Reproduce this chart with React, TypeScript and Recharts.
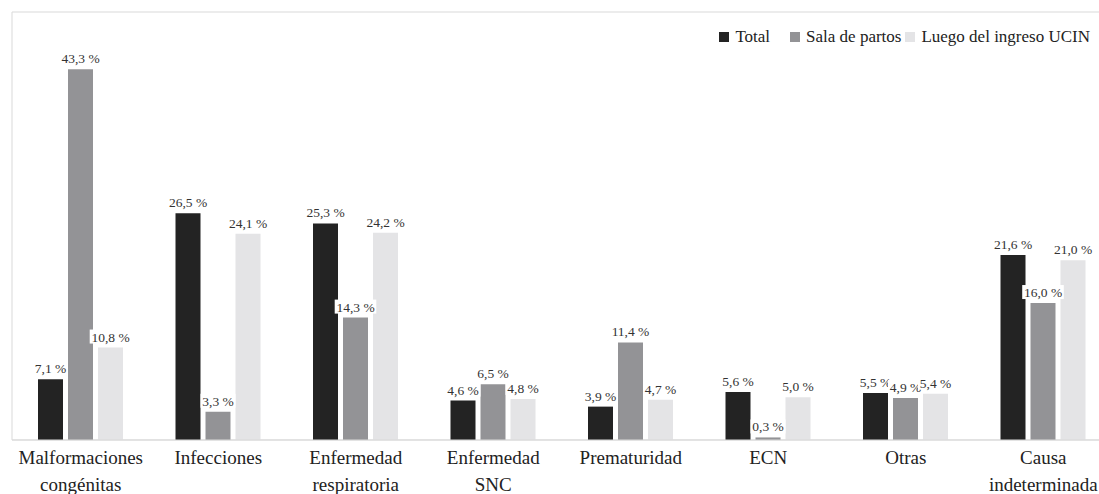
import { BarChart, Bar, XAxis, YAxis, CartesianGrid, LabelList } from "recharts";

const causes = [
  "Malformaciones\ncongénitas",
  "Infecciones",
  "Enfermedad\nrespiratoria",
  "Enfermedad\nSNC",
  "Prematuridad",
  "ECN",
  "Otras",
  "Causa\nindeterminada",
];
const total = [7.1, 26.5, 25.3, 4.6, 3.9, 5.6, 5.5, 21.6];
const salaPartos = [43.3, 3.3, 14.3, 6.5, 11.4, 0.3, 4.9, 16.0];
const luegoUcin = [10.8, 24.1, 24.2, 4.8, 4.7, 5.0, 5.4, 21.0];
const yTicks = [0, 5, 10, 15, 20, 25, 30, 35, 40, 45, 50];

const series = [
  { key: "total", name: "Total", color: "#232323" },
  { key: "sala", name: "Sala de partos", color: "#939396" },
  { key: "luego", name: "Luego del ingreso UCIN", color: "#e4e4e6" },
];

const data = causes.map((cause, i) => ({
  cause,
  total: total[i],
  sala: salaPartos[i],
  luego: luegoUcin[i],
}));

const FONT = "Liberation Serif";
const GRID = "#d9d9d9";

// force the serif face on everything inside the chart, svg text included
const css = `.causas-chart, .causas-chart * { font-family: "Liberation Serif", serif !important; }`;

const fmt = (v: number) => `${v.toFixed(1).replace(".", ",")} %`;

function ValueLabel(props: any) {
  const { x, y, width, value } = props;
  const cx = Number(x) + Number(width) / 2;
  const text = fmt(Number(value));
  const w = text.length * 6.6;
  return (
    <g>
      <rect x={cx - w / 2 - 1} y={Number(y) - 18} width={w + 2} height={14} fill="#fff" />
      <text x={cx} y={Number(y) - 6} textAnchor="middle" fontFamily={FONT} fontSize={13.5} fill="#333">
        {text}
      </text>
    </g>
  );
}

function CauseTick(props: any) {
  const { x, y, payload } = props;
  const lines = String(payload.value).split("\n");
  return (
    <text x={x} y={y} textAnchor="middle" fontFamily={FONT} fontSize={19} fill="#222">
      {lines.map((l, i) => (
        <tspan key={i} x={x} dy={i === 0 ? 16 : 27}>
          {l}
        </tspan>
      ))}
    </text>
  );
}

export default function App() {
  return (
    <div
      className="causas-chart"
      style={{ position: "absolute", left: 0, top: 0, width: 1099, height: 494, overflow: "hidden", background: "#fff", fontFamily: FONT }}
    >
      <style>{css}</style>
      <BarChart
        width={1112}
        height={494}
        data={data}
        margin={{ top: 12, right: 0, left: 12, bottom: 0 }}
        barSize={25}
        barGap={5}
      >
        <CartesianGrid stroke={GRID} verticalPoints={[12]} />
        <XAxis
          dataKey="cause"
          height={54}
          interval={0}
          tickLine={false}
          axisLine={{ stroke: GRID }}
          tick={<CauseTick />}
        />
        <YAxis width={0} domain={[0, 50]} ticks={yTicks} tick={false} tickLine={false} axisLine={false} />
        {series.map((s) => (
          <Bar key={s.key} dataKey={s.key} name={s.name} fill={s.color} isAnimationActive={false}>
            <LabelList dataKey={s.key} content={<ValueLabel />} />
          </Bar>
        ))}
      </BarChart>
      <div
        style={{
          position: "absolute",
          top: 27,
          right: 9,
          display: "flex",
          alignItems: "center",
          fontFamily: FONT,
          fontSize: 17,
          color: "#222",
          background: "#fff",
        }}
      >
        {series.map((s, i) => (
          <div key={s.key} style={{ display: "flex", alignItems: "center", marginLeft: i === 0 ? 0 : i === 1 ? 20 : 4 }}>
            <span style={{ width: 10, height: 10, background: s.color, display: "inline-block", marginRight: 6 }} />
            <span>{s.name}</span>
          </div>
        ))}
      </div>
    </div>
  );
}
